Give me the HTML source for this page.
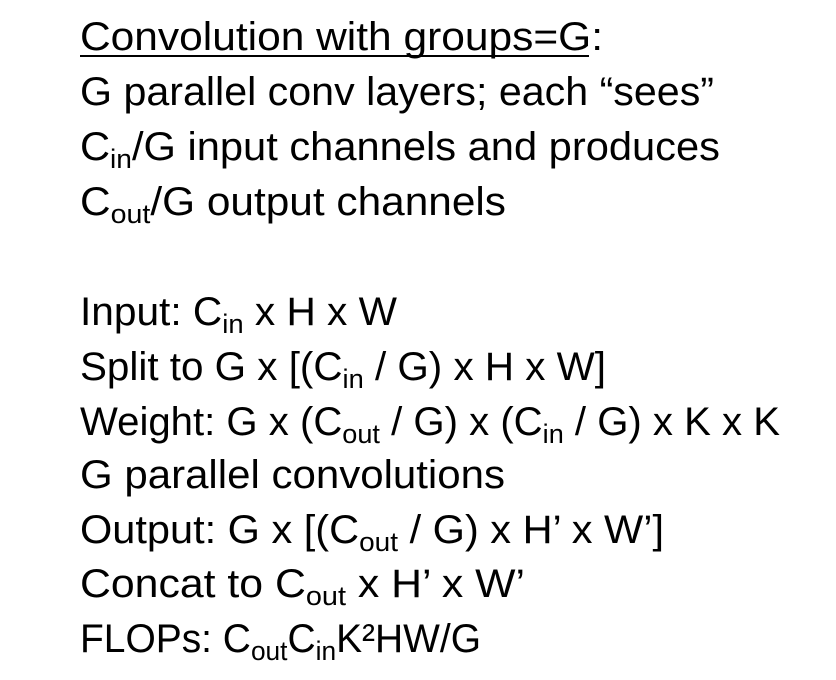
<!DOCTYPE html>
<html><head><meta charset="utf-8"><style>
html,body{margin:0;padding:0;background:#fff;width:836px;height:680px;overflow:hidden}
svg text{font-family:"Liberation Sans",sans-serif;font-size:40px;fill:#000}
.s{font-size:27px}
</style></head><body>
<svg width="836" height="680">
<text x="80" y="50" textLength="523" lengthAdjust="spacingAndGlyphs">Convolution with groups=G:</text>
<line x1="80" y1="56" x2="589" y2="56" stroke="#000" stroke-width="2"/>
<text x="80" y="105" textLength="634" lengthAdjust="spacingAndGlyphs">G parallel conv layers; each “sees”</text>
<text x="80" y="160" textLength="640" lengthAdjust="spacingAndGlyphs">C<tspan class="s" dy="8">in</tspan><tspan dy="-8">/G input channels and produces</tspan></text>
<text x="80" y="215" textLength="426" lengthAdjust="spacingAndGlyphs">C<tspan class="s" dy="8">out</tspan><tspan dy="-8">/G output channels</tspan></text>
<text x="80" y="325" textLength="317" lengthAdjust="spacingAndGlyphs">Input: C<tspan class="s" dy="8">in</tspan><tspan dy="-8"> x H x W</tspan></text>
<text x="80" y="380" textLength="526" lengthAdjust="spacingAndGlyphs">Split to G x [(C<tspan class="s" dy="8">in</tspan><tspan dy="-8"> / G) x H x W]</tspan></text>
<text x="80" y="435" textLength="700" lengthAdjust="spacingAndGlyphs">Weight: G x (C<tspan class="s" dy="8">out</tspan><tspan dy="-8"> / G) x (C</tspan><tspan class="s" dy="8">in</tspan><tspan dy="-8"> / G) x K x K</tspan></text>
<text x="80" y="488" textLength="425" lengthAdjust="spacingAndGlyphs">G parallel convolutions</text>
<text x="80" y="543" textLength="584" lengthAdjust="spacingAndGlyphs">Output: G x [(C<tspan class="s" dy="8">out</tspan><tspan dy="-8"> / G) x H’ x W’]</tspan></text>
<text x="80" y="597" textLength="445" lengthAdjust="spacingAndGlyphs">Concat to C<tspan class="s" dy="8">out</tspan><tspan dy="-8"> x H’ x W’</tspan></text>
<text x="80" y="652" textLength="401" lengthAdjust="spacingAndGlyphs">FLOPs: C<tspan class="s" dy="8">out</tspan><tspan dy="-8">C</tspan><tspan class="s" dy="8">in</tspan><tspan dy="-8">K²HW/G</tspan></text>
</svg>
</body></html>
